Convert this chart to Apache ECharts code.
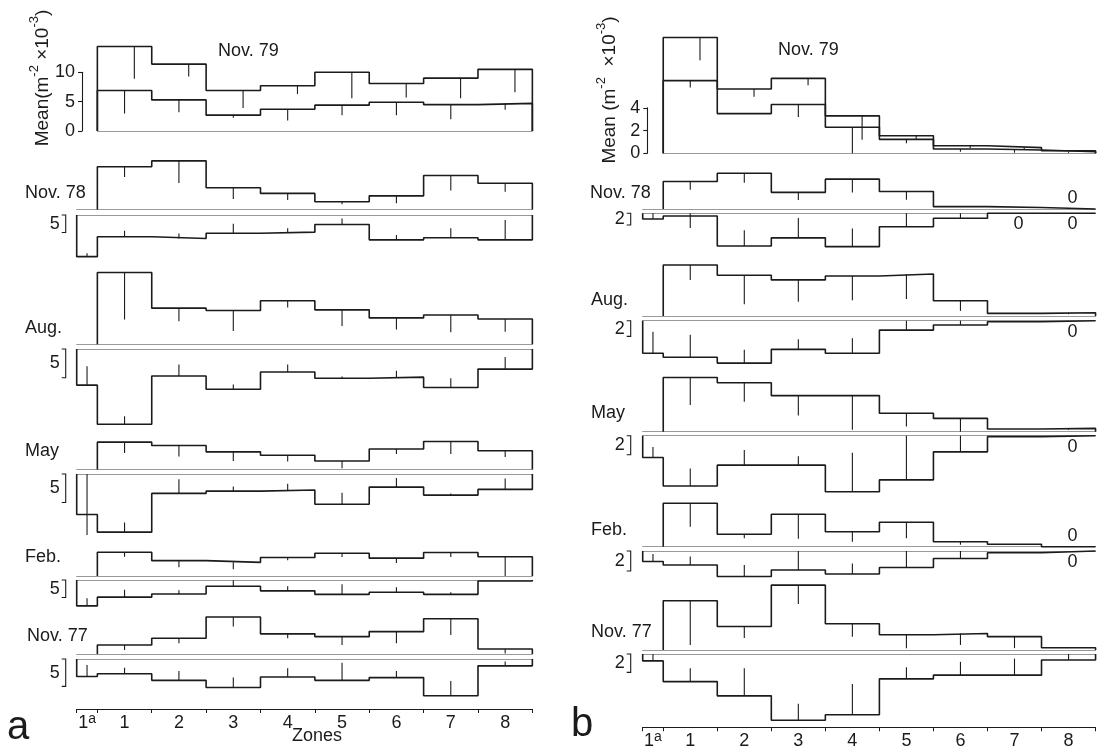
<!DOCTYPE html>
<html>
<head>
<meta charset="utf-8">
<script src="https://cdn.jsdelivr.net/npm/echarts@6/dist/echarts.min.js"></script>
<style>
  html, body { margin: 0; padding: 0; background: #fff; }
  #chart { width: 1105px; height: 747px; }
</style>
</head>
<body>
<div id="chart"></div>
<script>
// Sampling zones along the transect; zone 1a is a narrow strip.
const ZONES = ['1a', '1', '2', '3', '4', '5', '6', '7', '8'];
const ZONE_WIDTHS = [0.38, 1, 1, 1, 1, 1, 1, 1, 1];

// ---- a: mean density per zone (upper histograms upward, lower ones downward) ----
const A_NOV79_HI    = [null, 14.4, 11.4, 6.9, 7.7, 10.0, 8.1, 9.0, 10.5];
const A_NOV79_HI_SE = [0, 5.5, 2.1, 3.0, 1.4, 4.4, 2.4, 3.4, 3.9];
const A_NOV79_LO    = [null, 6.9, 5.3, 2.7, 3.7, 4.4, 4.9, 4.5, 4.7];
const A_NOV79_LO_SE = [0, 3.9, 2.1, 0.45, 1.9, 1.7, 2.2, 2.5, 1.1];

const A_NOV78_UP    = [null, 12.2, 13.9, 6.2, 4.6, 2.2, 3.9, 9.7, 7.5];
const A_NOV78_UP_SE = [0, 2.9, 6.3, 3.2, 1.9, 0.7, 2.1, 4.3, 2.4];
const A_NOV78_DN    = [11.9, 6.2, 6.7, 5.2, 4.9, 2.7, 7.1, 6.5, 7.1];
const A_NOV78_DN_SE = [1.0, 1.7, 1.4, 2.7, 1.1, 1.7, 1.4, 2.7, 5.7];

const A_AUG_UP    = [null, 12.5, 6.3, 5.9, 7.6, 6.0, 4.6, 5.1, 4.4];
const A_AUG_UP_SE = [0, 8.2, 2.3, 3.6, 1.2, 2.8, 2.0, 3.0, 2.2];
const A_AUG_DN    = [6.3, 13.1, 4.7, 7.0, 4.0, 5.1, 4.9, 6.7, 3.5];
const A_AUG_DN_SE = [3.3, 1.4, 2.0, 0.8, 1.3, 0.3, 1.1, 1.6, 2.1];

const A_MAY_UP    = [null, 4.8, 4.2, 3.1, 2.5, 1.5, 3.6, 4.9, 3.3];
const A_MAY_UP_SE = [0, 1.9, 1.9, 1.6, 1.1, 1.3, 0.9, 2.2, 1.1];
const A_MAY_DN    = [7.1, 10.2, 3.4, 3.0, 2.8, 5.3, 2.3, 3.7, 2.7];
const A_MAY_DN_SE = [[0, 10.7], 1.7, 2.5, 0.8, 1.1, 2.0, 1.6, 0.3, 1.9];

const A_FEB_UP    = [null, 6.8, 4.4, 3.9, 5.3, 6.5, 5.1, 6.7, 5.5];
const A_FEB_UP_SE = [0, 1.3, 1.9, 2.0, 0.8, 1.1, 1.4, 1.3, 5.5];
const A_FEB_DN    = [7.4, 4.9, 4.0, 1.8, 3.1, 4.1, 3.5, 4.1, 0.3];
const A_FEB_DN_SE = [2.2, 2.1, 1.1, 1.7, 1.3, 2.9, 1.4, 0.6, 0];

const A_NOV77_UP    = [null, 1.6, 2.8, 6.6, 3.6, 3.1, 4.0, 6.3, 0.9];
const A_NOV77_UP_SE = [0, 0.9, 0.9, 1.7, 0.8, 1.5, 2.1, 2.9, 0.8];
const A_NOV77_DN    = [3.2, 2.7, 3.9, 5.2, 3.3, 3.9, 3.4, 6.7, 1.25];
const A_NOV77_DN_SE = [2.1, 1.1, 1.7, 1.8, 1.6, 3.2, 1.2, 2.7, 0.8];

// ---- b ----
const B_NOV79_HI    = [null, 10.2, 5.67, 6.6, 3.3, 1.55, 0.67, 0.5, 0.23];
const B_NOV79_HI_SE = [0, 2.0, 0.68, 0.6, 2.1, 0.3, 0.2, 0.2, 0.1];
const B_NOV79_LO    = [null, 6.4, 3.5, 4.3, 2.3, 1.23, 0.38, 0.29, 0.14];
const B_NOV79_LO_SE = [0, 0.6, 0, 1.1, 2.3, 0.35, 0.24, 0.24, 0.1];

const B_NOV78_UP    = [null, 4.7, 6.1, 2.85, 5.1, 3.0, 0.4, 0.26, 0];
const B_NOV78_UP_SE = [0, 1.4, 1.6, 1.3, 2.3, 1.4, 0, 0, 0];
const B_NOV78_DN    = [0.97, 0.46, 5.6, 4.2, 5.7, 2.3, 0.85, 0, 0];
const B_NOV78_DN_SE = [0.97, [0, 2.5], 2.7, 3.4, 3.1, 2.3, 0.85, 0, 0];

const B_AUG_UP    = [null, 6.5, 5.2, 4.6, 5.1, 5.35, 1.95, 0.34, 0.42];
const B_AUG_UP_SE = [0, 1.9, 3.7, 2.8, 3.1, 3.2, 1.3, 0, 0.2];
const B_AUG_DN    = [4.15, 4.65, 5.4, 3.65, 4.15, 1.2, 0.55, 0.13, 0];
const B_AUG_DN_SE = [2.75, 2.85, 1.7, 1.3, 1.9, 1.2, 0.55, 0, 0];

const B_MAY_UP    = [null, 5.7, 5.15, 3.8, 3.8, 1.95, 1.4, 0.28, 0.35];
const B_MAY_UP_SE = [0, 2.9, 2.0, 2.1, 3.6, 1.4, 1.4, 0, 0.15];
const B_MAY_DN    = [2.3, 5.3, 3.1, 3.1, 5.9, 4.65, 1.7, 0.1, 0];
const B_MAY_DN_SE = [1.1, 1.85, 1.6, 0.95, 4.1, 4.65, 1.7, 0, 0];

const B_FEB_UP    = [null, 4.35, 1.25, 3.25, 1.5, 2.45, 0.5, 0.24, 0];
const B_FEB_UP_SE = [0, 2.35, 0.4, 2.45, 1.0, 1.6, 0.3, 0, 0];
const B_FEB_DN    = [1.05, 1.4, 2.55, 1.9, 2.3, 1.65, 0.75, 0.17, 0];
const B_FEB_DN_SE = [0.75, 0.85, 1.15, 1.9, 1.05, 1.65, 0.75, 0, 0];

const B_NOV77_UP    = [null, 5.35, 2.55, 7.05, 2.85, 1.65, 1.8, 1.45, 0.25];
const B_NOV77_UP_SE = [0, 4.8, 1.25, 2.05, 1.4, 1.45, 1.25, 1.25, 0];
const B_NOV77_DN    = [0.75, 3.0, 4.55, 7.2, 6.6, 2.7, 2.3, 2.3, 0.65];
const B_NOV77_DN_SE = [0.75, 1.45, 3.0, 1.8, 3.35, 1.25, 1.45, 1.8, 0.65];

// ---- styling ----
const INK = '#1b1b1b';
const BASE = '#999999';
const FONT = "'Liberation Sans', Arial, Helvetica, sans-serif";

const EDGES = ZONE_WIDTHS.reduce((acc, w) => { acc.push(acc[acc.length - 1] + w); return acc; }, [0]);
const CENTERS = ZONE_WIDTHS.map((w, i) => EDGES[i] + w / 2);
const XMAX = EDGES[EDGES.length - 1];

// Panel layout: pixel frame of each strip and its vertical scale (px per unit)
const PANELS = [
  {
    left: 76.7, zoneW: 54.375, axisX: 82, axisY: 709, bracketDX: -11,
    top: { base: 131, scale: 5.87, max: 10, step: 5,
           hi: A_NOV79_HI, hiSE: A_NOV79_HI_SE, lo: A_NOV79_LO, loSE: A_NOV79_LO_SE,
           label: [218, 51], title: [40, 78], titleText: '{b|Mean(m}{s|-2}{b| ×10}{s|-3}{b|)}' },
    bar: 5,
    rows: [
      { name: 'Nov. 78', up: A_NOV78_UP, upSE: A_NOV78_UP_SE, dn: A_NOV78_DN, dnSE: A_NOV78_DN_SE, upBase: 209.5, lowBase: 215, scale: 3.5, lx: 25, ly: 193 },
      { name: 'Aug.',    up: A_AUG_UP,   upSE: A_AUG_UP_SE,   dn: A_AUG_DN,   dnSE: A_AUG_DN_SE,   upBase: 344.3, lowBase: 349, scale: 5.74, lx: 25, ly: 328 },
      { name: 'May',     up: A_MAY_UP,   upSE: A_MAY_UP_SE,   dn: A_MAY_DN,   dnSE: A_MAY_DN_SE,   upBase: 469.5, lowBase: 474, scale: 5.7, lx: 25, ly: 451 },
      { name: 'Feb.',    up: A_FEB_UP,   upSE: A_FEB_UP_SE,   dn: A_FEB_DN,   dnSE: A_FEB_DN_SE,   upBase: 576, lowBase: 580, scale: 3.5, lx: 25, ly: 557 },
      { name: 'Nov. 77', up: A_NOV77_UP, upSE: A_NOV77_UP_SE, dn: A_NOV77_DN, dnSE: A_NOV77_DN_SE, upBase: 654, lowBase: 659, scale: 5.6, lx: 27, ly: 636 }
    ],
    letter: ['a', 7, 728], zonesTitle: [317, 736]
  },
  {
    left: 642.7, zoneW: 54.04, axisX: 647.3, axisY: 728, bracketDX: -12,
    top: { base: 153.3, scale: 11.35, max: 4, step: 2,
           hi: B_NOV79_HI, hiSE: B_NOV79_HI_SE, lo: B_NOV79_LO, loSE: B_NOV79_LO_SE,
           label: [778, 50], title: [607, 90], titleText: '{b|Mean (m}{s|-2}{b|  ×10}{s|-3}{b|)}' },
    bar: 2,
    rows: [
      { name: 'Nov. 78', up: B_NOV78_UP, upSE: B_NOV78_UP_SE, dn: B_NOV78_DN, dnSE: B_NOV78_DN_SE, upBase: 209, lowBase: 213.3, scale: 5.85, lx: 590, ly: 193 },
      { name: 'Aug.',    up: B_AUG_UP,   upSE: B_AUG_UP_SE,   dn: B_AUG_DN,   dnSE: B_AUG_DN_SE,   upBase: 316, lowBase: 320.7, scale: 7.85, lx: 591, ly: 300 },
      { name: 'May',     up: B_MAY_UP,   upSE: B_MAY_UP_SE,   dn: B_MAY_DN,   dnSE: B_MAY_DN_SE,   upBase: 431.7, lowBase: 435.7, scale: 9.5, lx: 591, ly: 413 },
      { name: 'Feb.',    up: B_FEB_UP,   upSE: B_FEB_UP_SE,   dn: B_FEB_DN,   dnSE: B_FEB_DN_SE,   upBase: 546.7, lowBase: 551, scale: 10, lx: 591, ly: 530 },
      { name: 'Nov. 77', up: B_NOV77_UP, upSE: B_NOV77_UP_SE, dn: B_NOV77_DN, dnSE: B_NOV77_DN_SE, upBase: 650, lowBase: 654, scale: 9.2, lx: 591, ly: 632 }
    ],
    letter: ['b', 571, 725]
  }
];

const grids = [], xAxes = [], yAxes = [], series = [], graphics = [];
const STRIP_H = 90;

function addGrid(grid, xAxis, yAxis) {
  grids.push(grid);
  const gi = grids.length - 1;
  xAxes.push(Object.assign({ gridIndex: gi }, xAxis));
  yAxes.push(Object.assign({ gridIndex: gi }, yAxis));
  return gi;
}

function baselineX(min, position) {
  return {
    type: 'value', min: min, max: XMAX, position: position,
    axisLine: { show: true, onZero: false, lineStyle: { color: BASE, width: 1 } },
    axisTick: { show: false }, axisLabel: { show: false }, splitLine: { show: false }
  };
}

// Outline of a histogram: up from the baseline, across each zone, back down.
function stepPoints(vals) {
  const pts = [];
  let last = -1;
  vals.forEach((v, i) => {
    if (v == null) return;
    if (!pts.length) pts.push([EDGES[i], 0]);
    pts.push([EDGES[i], v], [EDGES[i + 1], v]);
    last = i;
  });
  pts.push([EDGES[last + 1], 0]);
  return pts;
}

function stepSeries(gi, vals) {
  return {
    type: 'line', xAxisIndex: gi, yAxisIndex: gi, data: stepPoints(vals),
    symbol: 'none', clip: false, silent: true, z: 3,
    lineStyle: { color: INK, width: 1.6 }
  };
}

// Error bars hang from the step toward the baseline (or span a given range).
function errorSeries(gi, vals, errs, shift) {
  const data = [];
  vals.forEach((v, i) => {
    const e = errs[i];
    if (v == null || !e) return;
    const cx = CENTERS[i] + (i > 0 ? shift : 0);
    if (Array.isArray(e)) data.push([cx, e[0], e[1]]);
    else data.push([cx, v, v - e]);
  });
  return {
    type: 'custom', xAxisIndex: gi, yAxisIndex: gi, clip: false, silent: true, z: 4,
    encode: { x: 0, y: [1, 2] }, data: data,
    renderItem: (params, api) => {
      const a = api.coord([api.value(0), api.value(1)]);
      const b = api.coord([api.value(0), api.value(2)]);
      return { type: 'line', shape: { x1: a[0], y1: a[1], x2: b[0], y2: b[1] },
               style: { stroke: INK, lineWidth: 1.1 } };
    }
  };
}

// "0" written beside the baseline where nothing was found in a zone.
function zeroSeries(gi, vals, below) {
  const data = [];
  vals.forEach((v, i) => { if (v === 0) data.push([CENTERS[i], 0]); });
  return {
    type: 'custom', xAxisIndex: gi, yAxisIndex: gi, clip: false, silent: true,
    encode: { x: 0, y: 1 }, data: data,
    renderItem: (params, api) => {
      const p = api.coord([api.value(0), api.value(1)]);
      return { type: 'text', style: { text: '0', x: p[0] + 4, y: below ? p[1] + 2 : p[1] - 2,
               align: 'center', verticalAlign: below ? 'top' : 'bottom',
               font: `18px ${FONT}`, fill: INK } };
    }
  };
}

// Scale bracket beside each downward histogram.
function bracketSeries(gi, size, dx) {
  return {
    type: 'custom', xAxisIndex: gi, yAxisIndex: gi, clip: false, silent: true,
    encode: { x: 0, y: [1, 2] }, data: [[0, 0, size]],
    renderItem: (params, api) => {
      const a = api.coord([api.value(0), api.value(1)]);
      const b = api.coord([api.value(0), api.value(2)]);
      const x = a[0] + dx;
      return { type: 'group', children: [
        { type: 'polyline', shape: { points: [[x - 4, a[1]], [x, a[1]], [x, b[1]], [x - 4, b[1]]] },
          style: { stroke: INK, fill: null, lineWidth: 1.1 } },
        { type: 'text', style: { text: String(api.value(2)), x: x - 6, y: (a[1] + b[1]) / 2,
          align: 'right', verticalAlign: 'middle', font: `18px ${FONT}`, fill: INK } }
      ] };
    }
  };
}

function label(text, x, y, size) {
  graphics.push({ type: 'text', x: x, y: y, silent: true,
    style: { text: text, font: `${size || 18}px ${FONT}`, fill: INK, align: 'left', verticalAlign: 'middle' } });
}

PANELS.forEach(P => {
  const fullW = XMAX * P.zoneW;

  // Top strip (Nov. 79) with its value axis
  const T = P.top;
  const tLeft = P.left + EDGES[1] * P.zoneW;
  const tH = T.max * T.scale;
  const tg = addGrid(
    { left: tLeft, top: T.base - tH, width: (XMAX - EDGES[1]) * P.zoneW, height: tH },
    baselineX(EDGES[1], 'bottom'),
    { type: 'value', min: 0, max: T.max, interval: T.step, position: 'left', offset: tLeft - P.axisX,
      axisLine: { show: true, lineStyle: { color: INK, width: 1.1 } },
      axisTick: { show: true, inside: false, length: 4, lineStyle: { color: INK, width: 1.1 } },
      axisLabel: { color: INK, fontSize: 18, fontFamily: FONT, margin: 7 },
      splitLine: { show: false } }
  );
  series.push(stepSeries(tg, T.hi), stepSeries(tg, T.lo));
  series.push(errorSeries(tg, T.hi, T.hiSE, 0.18), errorSeries(tg, T.lo, T.loSE, 0));
  label('Nov. 79', T.label[0], T.label[1]);
  graphics.push({ type: 'text', x: T.title[0], y: T.title[1], rotation: Math.PI / 2, silent: true,
    style: { text: T.titleText, align: 'center', verticalAlign: 'middle', fill: INK,
      rich: { b: { fontSize: 19, fontFamily: FONT, lineHeight: 24, verticalAlign: 'bottom', fill: INK },
              s: { fontSize: 13, fontFamily: FONT, lineHeight: 13, verticalAlign: 'top', fill: INK } } } });

  // Paired strips for each survey: upward above, mirrored downward below
  P.rows.forEach(R => {
    const ug = addGrid(
      { left: P.left, top: R.upBase - STRIP_H, width: fullW, height: STRIP_H },
      baselineX(0, 'bottom'),
      { type: 'value', min: 0, max: STRIP_H / R.scale, show: false, splitLine: { show: false } }
    );
    const dg = addGrid(
      { left: P.left, top: R.lowBase, width: fullW, height: STRIP_H },
      baselineX(0, 'top'),
      { type: 'value', min: 0, max: STRIP_H / R.scale, inverse: true, show: false, splitLine: { show: false } }
    );
    series.push(stepSeries(ug, R.up), errorSeries(ug, R.up, R.upSE, 0), zeroSeries(ug, R.up, false));
    series.push(stepSeries(dg, R.dn), errorSeries(dg, R.dn, R.dnSE, 0), zeroSeries(dg, R.dn, true));
    series.push(bracketSeries(dg, P.bar, P.bracketDX));
    label(R.name, R.lx, R.ly);
  });

  // Zone axis along the bottom
  addGrid(
    { left: P.left, top: P.axisY - 1, width: fullW, height: 1 },
    { type: 'value', min: 0, max: XMAX, position: 'bottom',
      axisLine: { show: true, onZero: false, lineStyle: { color: INK, width: 1 } },
      axisTick: { show: true, customValues: EDGES, length: 4, lineStyle: { color: INK, width: 1 } },
      axisLabel: { show: true, customValues: CENTERS, margin: 3, color: INK, fontSize: 18, fontFamily: FONT,
        formatter: v => {
          const i = CENTERS.findIndex(c => Math.abs(c - v) < 1e-6);
          return i === 0 ? '{n|1}{s|a}' : '{n|' + ZONES[i] + '}';
        },
        rich: { n: { fontSize: 18, fontFamily: FONT, color: INK, lineHeight: 20, verticalAlign: 'bottom' },
                s: { fontSize: 14, fontFamily: FONT, color: INK, lineHeight: 14, verticalAlign: 'top' } } },
      splitLine: { show: false } },
    { type: 'value', show: false, splitLine: { show: false } }
  );

  label(P.letter[0], P.letter[1], P.letter[2], 40);
  if (P.zonesTitle) {
    graphics.push({ type: 'text', x: P.zonesTitle[0], y: P.zonesTitle[1], silent: true,
      style: { text: 'Zones', font: `18px ${FONT}`, fill: INK, align: 'center', verticalAlign: 'middle' } });
  }
});

const chart = echarts.init(document.getElementById('chart'), null, { renderer: 'canvas' });
chart.setOption({
  animation: false,
  backgroundColor: '#ffffff',
  grid: grids,
  xAxis: xAxes,
  yAxis: yAxes,
  series: series,
  graphic: graphics
});
</script>
</body>
</html>
